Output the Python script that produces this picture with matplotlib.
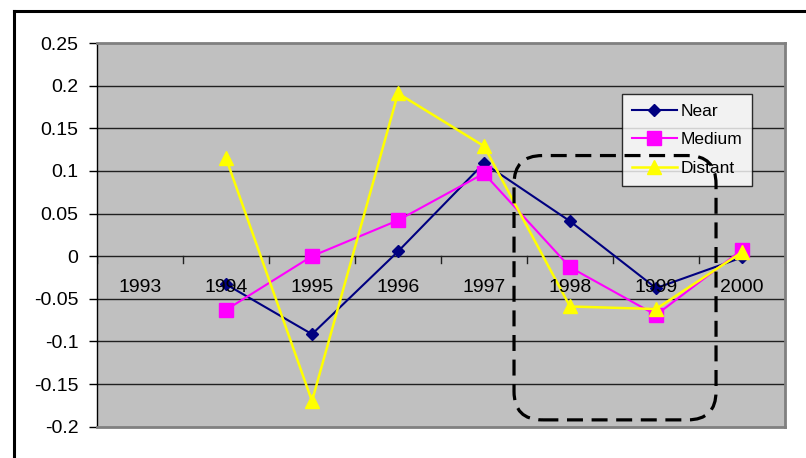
import matplotlib
matplotlib.use("Agg")
import matplotlib.pyplot as plt
from matplotlib.lines import Line2D
from matplotlib.patches import FancyBboxPatch

plt.rcParams["font.family"] = ["Liberation Sans", "DejaVu Sans"]

years = ["1993", "1994", "1995", "1996", "1997", "1998", "1999", "2000"]
# 1993 has no values
near = [None, -0.033, -0.0915, 0.0055, 0.109, 0.041, -0.0375, -0.0015]
medium = [None, -0.063, 0.0, 0.042, 0.097, -0.013, -0.069, 0.0075]
distant = [None, 0.115, -0.170, 0.191, 0.129, -0.059, -0.062, 0.0047]
y_ticks = [-0.2, -0.15, -0.1, -0.05, 0, 0.05, 0.1, 0.15, 0.2, 0.25]

fig = plt.figure(figsize=(8.06, 4.58), dpi=100)
fig.patch.set_facecolor("white")
ax = fig.add_axes([97 / 806, 1 - 426.7 / 458, 688 / 806, 383.7 / 458])
ax.set_facecolor("#C0C0C0")

x = list(range(len(years)))
ax.set_xlim(-0.5, len(years) - 0.5)
ax.set_ylim(-0.2, 0.25)

# gridlines
for t in y_ticks[1:-1]:
    ax.axhline(t, color="#202020", lw=1.0, zorder=1)

ax.plot(x[1:], near[1:], color="#000080", lw=1.5, marker="D", markersize=6,
        label="Near", zorder=3)
ax.plot(x[1:], medium[1:], color="#FF00FF", lw=1.5, marker="s", markersize=10,
        label="Medium", zorder=3)
ax.plot(x[1:], distant[1:], color="#FFFF00", lw=1.8, marker="^", markersize=10,
        label="Distant", zorder=3)

# y axis
ax.set_yticks(y_ticks)
ax.set_yticklabels([f"{t:g}" for t in y_ticks], fontsize=14)
ax.tick_params(axis="y", direction="out", length=6, width=1, color="black", pad=7.5)

# x axis at zero with category labels
ax.set_xticks([])
for i in range(len(years) + 1):
    ax.plot([i - 0.5, i - 0.5], [0, -0.0075], color="#202020", lw=1, zorder=2)
for i, yr in enumerate(years):
    ax.text(i, -0.0423, yr, ha="center", va="baseline", fontsize=14, zorder=4)

for s in ["top", "right", "bottom"]:
    ax.spines[s].set_color("#808080")
    ax.spines[s].set_linewidth(2)
ax.spines["left"].set_color("black")
ax.spines["left"].set_linewidth(1)

leg = ax.legend(loc="upper left", bbox_to_anchor=(0.763, 0.867), borderaxespad=0,
                fontsize=12.5, frameon=True, fancybox=False, handlelength=2.6,
                handletextpad=0.2, labelspacing=0.76, borderpad=0.57)
leg.get_frame().set_edgecolor("black")
leg.get_frame().set_linewidth(1)
leg.get_frame().set_facecolor("white")
leg.set_zorder(5)

# dashed rounded annotation box, drawn over the legend
box = FancyBboxPatch((4.349, -0.192), 6.698 - 4.349, 0.118 + 0.192,
                     boxstyle="round,pad=0,rounding_size=0.33",
                     mutation_aspect=86 / 852, fill=False, edgecolor="black",
                     lw=2.3, linestyle=(0, (5, 2.7)), zorder=20, clip_on=False)
ax.add_artist(box)

# outer chart border (top and left visible)
fig.add_artist(Line2D([14 / 806, 1.01], [1 - 11 / 458, 1 - 11 / 458],
                      color="black", lw=2.2, transform=fig.transFigure))
fig.add_artist(Line2D([14 / 806, 14 / 806], [1 - 11 / 458, -0.01],
                      color="black", lw=2.2, transform=fig.transFigure))

fig.savefig("out.png", dpi=100)
